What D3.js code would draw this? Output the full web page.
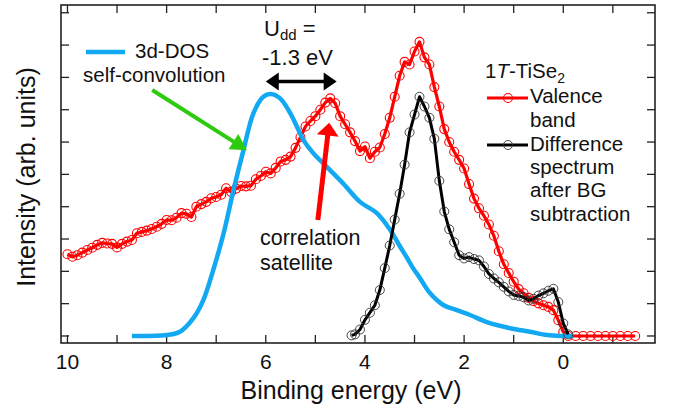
<!DOCTYPE html>
<html>
<head>
<meta charset="utf-8">
<script src="https://cdn.jsdelivr.net/npm/d3@7/dist/d3.min.js"></script>
<style>
  body { margin: 0; background: #fff; }
  text { font-family: "Liberation Sans", Arial, sans-serif; fill: #111; }
</style>
</head>
<body>
<svg id="chart" width="674" height="414"></svg>
<script>
// valence band (red, circles)  [binding energy eV, intensity]
var valenceBand = [[10.0,2.53],[9.9,2.45],[9.8,2.50],[9.7,2.58],[9.6,2.66],[9.5,2.73],[9.4,2.82],[9.3,2.88],[9.2,2.86],[9.1,2.85],
  [9.0,2.74],[8.9,2.85],[8.8,2.92],[8.7,2.97],[8.6,3.18],[8.5,3.22],[8.4,3.26],[8.3,3.31],[8.2,3.38],[8.1,3.47],
  [8.0,3.59],[7.9,3.58],[7.8,3.66],[7.7,3.80],[7.6,3.78],[7.5,3.68],[7.4,4.00],[7.3,4.08],[7.2,4.15],[7.1,4.26],
  [7.0,4.30],[6.9,4.37],[6.8,4.57],[6.7,4.46],[6.6,4.56],[6.5,4.64],[6.4,4.63],[6.3,4.65],[6.2,4.85],[6.1,4.95],
  [6.0,5.08],[5.9,5.03],[5.8,5.20],[5.7,5.40],[5.6,5.45],[5.5,5.55],[5.4,5.82],[5.3,6.15],[5.2,6.48],[5.1,6.65],
  [5.0,6.80],[4.9,7.00],[4.8,7.22],[4.7,7.35],[4.6,7.20],[4.5,6.80],[4.4,6.55],[4.3,6.30],[4.2,6.03],[4.1,5.72],
  [4.0,5.86],[3.9,5.50],[3.8,5.70],[3.7,5.83],[3.6,6.25],[3.5,6.75],[3.4,7.40],[3.3,8.05],[3.2,8.48],[3.1,8.40],
  [3.0,8.80],[2.9,9.10],[2.8,8.62],[2.7,8.40],[2.6,7.70],[2.5,7.10],[2.4,6.40],[2.3,6.00],[2.2,5.70],[2.1,5.45],
  [2.0,5.18],[1.9,4.70],[1.8,4.25],[1.7,3.95],[1.6,3.72],[1.5,3.45],[1.4,3.10],[1.3,2.62],[1.2,2.22],[1.1,1.95],
  [1.0,1.68],[0.9,1.45],[0.8,1.32],[0.7,1.18],[0.6,1.08],[0.5,1.01],[0.4,0.95],[0.3,0.90],[0.2,0.80],[0.1,0.49],
  [0.0,0.13],[-0.1,0.0],[-0.25,0.0],[-0.4,0.0],[-0.55,0.0],[-0.7,0.0],[-0.85,0.0],[-1.0,0.0],[-1.15,0.0],[-1.3,0.0],[-1.45,0.0]];

// difference spectrum after BG subtraction (black, circles)
var diffSpectrum = [[4.27,0.02],[4.2,0.05],[4.1,0.20],[4.0,0.50],[3.9,0.72],[3.8,0.95],[3.7,1.42],[3.6,2.10],[3.5,2.80],[3.4,3.60],
  [3.3,4.40],[3.2,5.30],[3.1,6.30],[3.0,6.85],[2.9,7.40],[2.8,7.10],[2.7,6.75],[2.6,6.10],[2.5,4.80],[2.4,3.85],
  [2.3,3.30],[2.2,2.90],[2.1,2.50],[2.0,2.40],[1.9,2.44],[1.8,2.38],[1.7,2.34],[1.6,2.15],[1.5,1.92],[1.4,1.78],
  [1.3,1.66],[1.2,1.52],[1.1,1.38],[1.0,1.27],[0.9,1.24],[0.8,1.20],[0.7,1.10],[0.6,1.15],[0.5,1.25],[0.4,1.32],
  [0.3,1.40],[0.2,1.46],[0.1,1.05],[0.0,0.39],[-0.1,0.05]];

// 3d-DOS self-convolution (blue, smooth)
var dosConv = [[8.70,0.0],[8.0,0.03],[7.73,0.13],[7.46,0.55],[7.26,1.11],[7.06,2.04],[6.85,3.18],[6.65,4.52],[6.45,5.75],[6.25,6.89],
  [6.05,7.40],[5.90,7.49],[5.71,7.35],[5.51,6.90],[5.34,6.37],[5.24,6.06],[5.04,5.65],[4.84,5.34],[4.64,5.03],[4.44,4.72],
  [4.10,4.15],[3.76,3.80],[3.49,3.28],[3.29,2.76],[3.16,2.44],[3.03,2.10],[2.89,1.79],[2.69,1.33],[2.42,0.96],[2.15,0.80],
  [1.88,0.65],[1.54,0.43],[1.07,0.24],[0.67,0.13],[0.33,0.03],[0.07,0.0],[-0.20,0.0]];

var xMinor = [10,9,8,7,6,5,4,3,2,1,0,-1];
var xLabels = [10,8,6,4,2,0];
var yTicks = [0,1,2,3,4,5,6,7,8,9,10];

var svg = d3.select('#chart');
var pL = 61, pR = 655, pT = 5, pB = 343;

var x = d3.scaleLinear().domain([10.13,-1.85]).range([pL,pR]);
var y = d3.scaleLinear().domain([-0.217,10.24]).range([pB,pT]);

var RED = '#ff0000', BLUE = '#12a9f2', GREEN = '#2ccb10';

// ticks (inward, all four sides)
var tk = 8;
var axes = svg.append('g').attr('stroke','#222').attr('stroke-width',1.3);
xMinor.forEach(function(v){
	axes.append('line').attr('x1',x(v)).attr('x2',x(v)).attr('y1',pB).attr('y2',pB-tk);
	axes.append('line').attr('x1',x(v)).attr('x2',x(v)).attr('y1',pT).attr('y2',pT+tk);
});
yTicks.forEach(function(v){
	axes.append('line').attr('x1',pL).attr('x2',pL+tk).attr('y1',y(v)).attr('y2',y(v));
	axes.append('line').attr('x1',pR).attr('x2',pR-tk).attr('y1',y(v)).attr('y2',y(v));
});
svg.append('rect').attr('x',pL).attr('y',pT).attr('width',pR-pL).attr('height',pB-pT)
	.attr('fill','none').attr('stroke','#222').attr('stroke-width',1.6);

svg.selectAll('.xlab').data(xLabels).enter().append('text')
	.attr('x',function(d){return x(d);}).attr('y',369)
	.attr('text-anchor','middle').attr('font-size',21)
	.text(function(d){return d;});

svg.append('text').attr('x',351).attr('y',399).attr('text-anchor','middle')
	.attr('font-size',25).text('Binding energy (eV)');
svg.append('text').attr('transform','translate(35,177) rotate(-90)').attr('text-anchor','middle')
	.attr('font-size',25).text('Intensity (arb. units)');

var line = d3.line().x(function(d){return x(d[0]);}).y(function(d){return y(d[1]);});
var smooth = d3.line().curve(d3.curveCatmullRom.alpha(0.5))
	.x(function(d){return x(d[0]);}).y(function(d){return y(d[1]);});

// valence band
svg.append('path').datum(valenceBand).attr('d',line)
	.attr('fill','none').attr('stroke',RED).attr('stroke-width',3.2).attr('stroke-linejoin','round');
svg.append('g').selectAll('circle').data(valenceBand).enter().append('circle')
	.attr('cx',function(d){return x(d[0]);}).attr('cy',function(d){return y(d[1]);})
	.attr('r',4.5).attr('fill','none').attr('stroke',RED).attr('stroke-width',1.1);

// 3d-DOS self convolution
svg.append('path').datum(dosConv).attr('d',smooth)
	.attr('fill','none').attr('stroke',BLUE).attr('stroke-width',4.5).attr('stroke-linejoin','round');

// difference spectrum
svg.append('path').datum(diffSpectrum).attr('d',line)
	.attr('fill','none').attr('stroke','#000').attr('stroke-width',3).attr('stroke-linejoin','round');
svg.append('g').selectAll('circle').data(diffSpectrum).enter().append('circle')
	.attr('cx',function(d){return x(d[0]);}).attr('cy',function(d){return y(d[1]);})
	.attr('r',4.5).attr('fill','none').attr('stroke','#333').attr('stroke-width',0.9);

// arrows
function arrow(x1,y1,x2,y2,color,width,headLen,headW){
	var dx = x2-x1, dy = y2-y1, L = Math.sqrt(dx*dx+dy*dy);
	var ux = dx/L, uy = dy/L;
	var bx = x2-ux*headLen, by = y2-uy*headLen;
	svg.append('line').attr('x1',x1).attr('y1',y1).attr('x2',bx+ux*2).attr('y2',by+uy*2)
		.attr('stroke',color).attr('stroke-width',width);
	svg.append('path').attr('fill',color)
		.attr('d','M'+x2+','+y2+'L'+(bx-uy*headW/2)+','+(by+ux*headW/2)+'L'+(bx+uy*headW/2)+','+(by-ux*headW/2)+'Z');
}
arrow(x(8.29),y(7.61),x(6.38),y(5.75),GREEN,4,16,18);
arrow(x(4.95),y(3.59),x(4.72),y(6.60),RED,5,13,22);
// U_dd double arrow
var ay = y(7.87), ax1 = x(6.0), ax2 = x(4.57);
svg.append('line').attr('x1',ax1+10).attr('x2',ax2-10).attr('y1',ay).attr('y2',ay)
	.attr('stroke','#000').attr('stroke-width',3.5);
svg.append('path').attr('fill','#000')
	.attr('d','M'+ax1+','+ay+'l13,-9l0,18Z M'+ax2+','+ay+'l-13,-9l0,18Z');

// left legend
svg.append('line').attr('x1',86).attr('x2',125).attr('y1',52).attr('y2',52)
	.attr('stroke',BLUE).attr('stroke-width',4.5);
svg.append('text').attr('x',135).attr('y',58).attr('font-size',20.5).text('3d-DOS');
svg.append('text').attr('x',83).attr('y',82).attr('font-size',20.5).text('self-convolution');

// U_dd annotation
var u = svg.append('text').attr('x',264).attr('y',36).attr('font-size',22);
u.append('tspan').text('U');
u.append('tspan').attr('font-size',15).attr('dy',4).text('dd');
u.append('tspan').attr('dy',-4).text(' =');
svg.append('text').attr('x',262).attr('y',65).attr('font-size',22).text('-1.3 eV');

svg.append('text').attr('x',260).attr('y',245).attr('font-size',21.5).text('correlation');
svg.append('text').attr('x',260).attr('y',270).attr('font-size',21.5).text('satellite');

// right legend
var t = svg.append('text').attr('x',485).attr('y',78).attr('font-size',20.5);
t.append('tspan').text('1');
t.append('tspan').attr('font-style','italic').text('T');
t.append('tspan').text('-TiSe');
t.append('tspan').attr('font-size',14).attr('dy',5).text('2');

svg.append('line').attr('x1',487).attr('x2',528).attr('y1',98).attr('y2',98)
	.attr('stroke',RED).attr('stroke-width',3.2);
svg.append('circle').attr('cx',508).attr('cy',98).attr('r',4.5)
	.attr('fill','none').attr('stroke',RED).attr('stroke-width',1.1);
svg.append('line').attr('x1',487).attr('x2',528).attr('y1',145).attr('y2',145)
	.attr('stroke','#000').attr('stroke-width',3);
svg.append('circle').attr('cx',508).attr('cy',145).attr('r',4.5)
	.attr('fill','none').attr('stroke','#333').attr('stroke-width',0.9);

var legendLines = [['Valence',103],['band',127],['Difference',151],['spectrum',174],['after BG',197],['subtraction',221]];
legendLines.forEach(function(l){
	svg.append('text').attr('x',530).attr('y',l[1]).attr('font-size',20.5).text(l[0]);
});
</script>
</body>
</html>
